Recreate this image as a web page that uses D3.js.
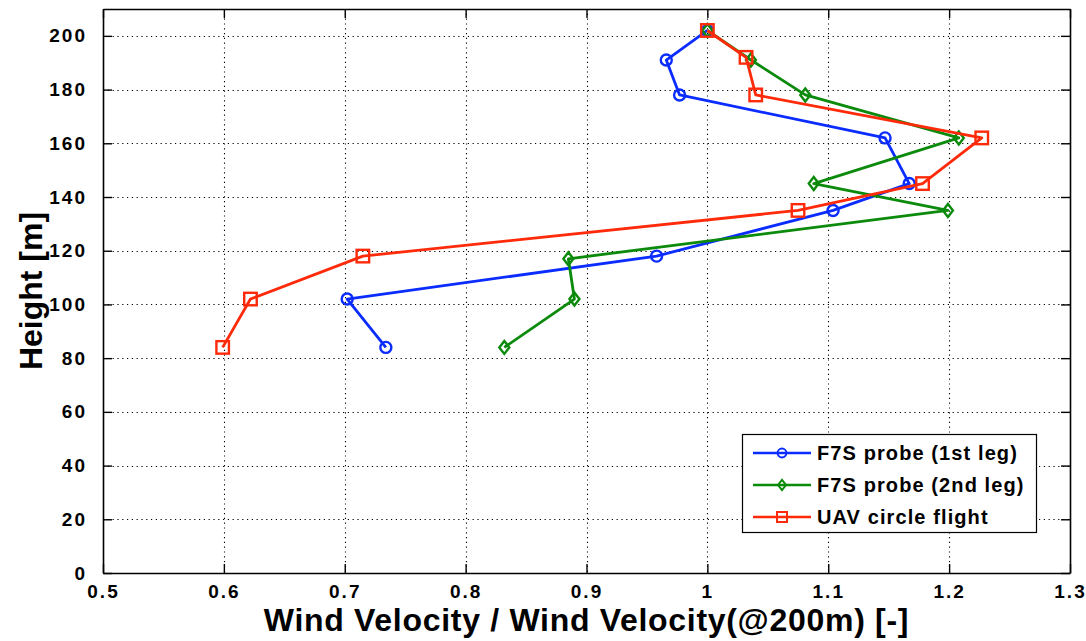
<!DOCTYPE html>
<html>
<head>
<meta charset="utf-8">
<script src="https://cdn.jsdelivr.net/npm/d3@7"></script>
<style>
  html, body { margin: 0; padding: 0; background: #fff; }
  svg { display: block; }
  text { font-family: "Liberation Sans", Arial, sans-serif; fill: #000; }
</style>
</head>
<body>
<svg id="chart" width="1086" height="641"></svg>
<script>
// Height levels of each profile [m]
const heightsProbe1 = [84, 102, 118, 135, 145, 162, 178, 191, 202];
const heightsProbe2 = [84, 102, 117, 135, 145, 162, 178, 191, 202];
const heightsUav    = [84, 102, 118, 135, 145, 162, 178, 192, 202];

// Normalised wind velocity (relative to 200 m)
const velProbe1 = [0.734, 0.702, 0.958, 1.104, 1.167, 1.147, 0.977, 0.966, 1.000];
const velProbe2 = [0.832, 0.890, 0.885, 1.199, 1.088, 1.208, 1.081, 1.036, 1.000];
const velUav    = [0.599, 0.622, 0.715, 1.075, 1.178, 1.227, 1.040, 1.032, 1.000];

const seriesNames = ["F7S probe (1st leg)", "F7S probe (2nd leg)", "UAV circle flight"];
const xTicks = [0.5, 0.6, 0.7, 0.8, 0.9, 1.0, 1.1, 1.2, 1.3];
const yTicks = [0, 20, 40, 60, 80, 100, 120, 140, 160, 180, 200];

const xLabel = "Wind Velocity / Wind Velocity(@200m) [-]";
const yLabel = "Height [m]";

const series = [
  { name: seriesNames[0], x: velProbe1, y: heightsProbe1, color: "#0a2cff", marker: "circle" },
  { name: seriesNames[1], x: velProbe2, y: heightsProbe2, color: "#0b8a0b", marker: "diamond" },
  { name: seriesNames[2], x: velUav,    y: heightsUav,    color: "#ff2a0a", marker: "square" }
];

const svg = d3.select("#chart");
const L = 103, R = 1070, T = 9, B = 573;

const x = d3.scaleLinear().domain([0.5, 1.3]).range([L, R]);
const y = d3.scaleLinear().domain([0, 210]).range([B, T]);

// dotted grid
const grid = svg.append("g").attr("stroke", "#000").attr("stroke-width", 1.1)
  .attr("stroke-dasharray", "1.2,3.6");
grid.selectAll(".gx").data(xTicks.slice(1, -1)).join("line")
  .attr("x1", d => Math.round(x(d)) + 0.5).attr("x2", d => Math.round(x(d)) + 0.5)
  .attr("y1", T).attr("y2", B);
grid.selectAll(".gy").data(yTicks.slice(1)).join("line")
  .attr("y1", d => Math.round(y(d)) + 0.5).attr("y2", d => Math.round(y(d)) + 0.5)
  .attr("x1", L).attr("x2", R);

// axes with inward ticks on all four sides
const tickLen = 9;
const fmtX = d => d === 1 ? "1" : d3.format(".1f")(d);
const xAxis = svg.append("g").attr("transform", `translate(0,${B})`)
  .call(d3.axisBottom(x).tickValues(xTicks).tickFormat(fmtX).tickSizeInner(-tickLen).tickSizeOuter(0));
const xTop = svg.append("g").attr("transform", `translate(0,${T})`)
  .call(d3.axisTop(x).tickValues(xTicks).tickFormat("").tickSizeInner(-tickLen).tickSizeOuter(0));
const yAxis = svg.append("g").attr("transform", `translate(${L},0)`)
  .call(d3.axisLeft(y).tickValues(yTicks).tickSizeInner(-tickLen).tickSizeOuter(0).tickPadding(16));
const yRight = svg.append("g").attr("transform", `translate(${R},0)`)
  .call(d3.axisRight(y).tickValues(yTicks).tickFormat("").tickSizeInner(-tickLen).tickSizeOuter(0));

[xAxis, xTop, yAxis, yRight].forEach(g => {
  g.select(".domain").attr("stroke", "#000").attr("stroke-width", 1.6);
  g.selectAll(".tick line").attr("stroke", "#000").attr("stroke-width", 1.4);
  g.selectAll(".tick text").attr("font-size", 19).attr("fill", "#000")
    .attr("font-family", "'Liberation Sans', Arial, sans-serif").attr("font-weight", "bold")
    .attr("letter-spacing", "2px");
});
// x tick labels sit with their baseline 25px below the axis line
xAxis.selectAll(".tick text").attr("y", 25).attr("dy", null);

// marker drawing helper
function drawMarker(g, type, cx, cy, color, sw, k) {
  if (type === "circle") {
    g.append("circle").attr("cx", cx).attr("cy", cy).attr("r", 5.5 * k)
      .attr("fill", "none").attr("stroke", color).attr("stroke-width", sw);
  } else if (type === "diamond") {
    const h = 6.5 * k, w = 5 * k;
    g.append("path")
      .attr("d", `M${cx},${cy - h}L${cx + w},${cy}L${cx},${cy + h}L${cx - w},${cy}Z`)
      .attr("fill", "none").attr("stroke", color).attr("stroke-width", sw);
  } else {
    const s = 12.5 * k;
    g.append("rect").attr("x", cx - s / 2).attr("y", cy - s / 2).attr("width", s).attr("height", s)
      .attr("fill", "none").attr("stroke", color).attr("stroke-width", sw);
  }
}

const line = d3.line().x(d => x(d[0])).y(d => y(d[1]));
const plot = svg.append("g");
series.forEach(s => {
  const pts = s.x.map((v, i) => [v, s.y[i]]);
  plot.append("path").datum(pts).attr("d", line)
    .attr("fill", "none").attr("stroke", s.color).attr("stroke-width", 2.8)
    .attr("stroke-linejoin", "round");
  const mg = plot.append("g");
  pts.forEach(p => drawMarker(mg, s.marker, x(p[0]), y(p[1]), s.color, 2.4, 1));
});

// axis titles
svg.append("text").attr("x", (L + R) / 2).attr("y", 631).attr("text-anchor", "middle")
  .attr("font-size", 32).attr("font-weight", "bold").attr("letter-spacing", "0.7px").text(xLabel);
svg.append("text").attr("transform", `translate(42,${(T + B) / 2}) rotate(-90)`)
  .attr("text-anchor", "middle").attr("font-size", 32).attr("font-weight", "bold").text(yLabel);

// legend
const lg = svg.append("g");
lg.append("rect").attr("x", 742.5).attr("y", 434.5).attr("width", 294).attr("height", 98)
  .attr("fill", "#fff").attr("stroke", "#000").attr("stroke-width", 1.2);
series.forEach((s, i) => {
  const ly = 453 + i * 32;
  lg.append("line").attr("x1", 753).attr("x2", 811).attr("y1", ly).attr("y2", ly)
    .attr("stroke", s.color).attr("stroke-width", 2.4);
  drawMarker(lg, s.marker, 782, ly, s.color, 2, 0.8);
  lg.append("text").attr("x", 817).attr("y", ly).attr("dy", "0.36em")
    .attr("font-size", 20).attr("font-weight", "bold").attr("letter-spacing", "1.1px").text(s.name);
});
</script>
</body>
</html>
